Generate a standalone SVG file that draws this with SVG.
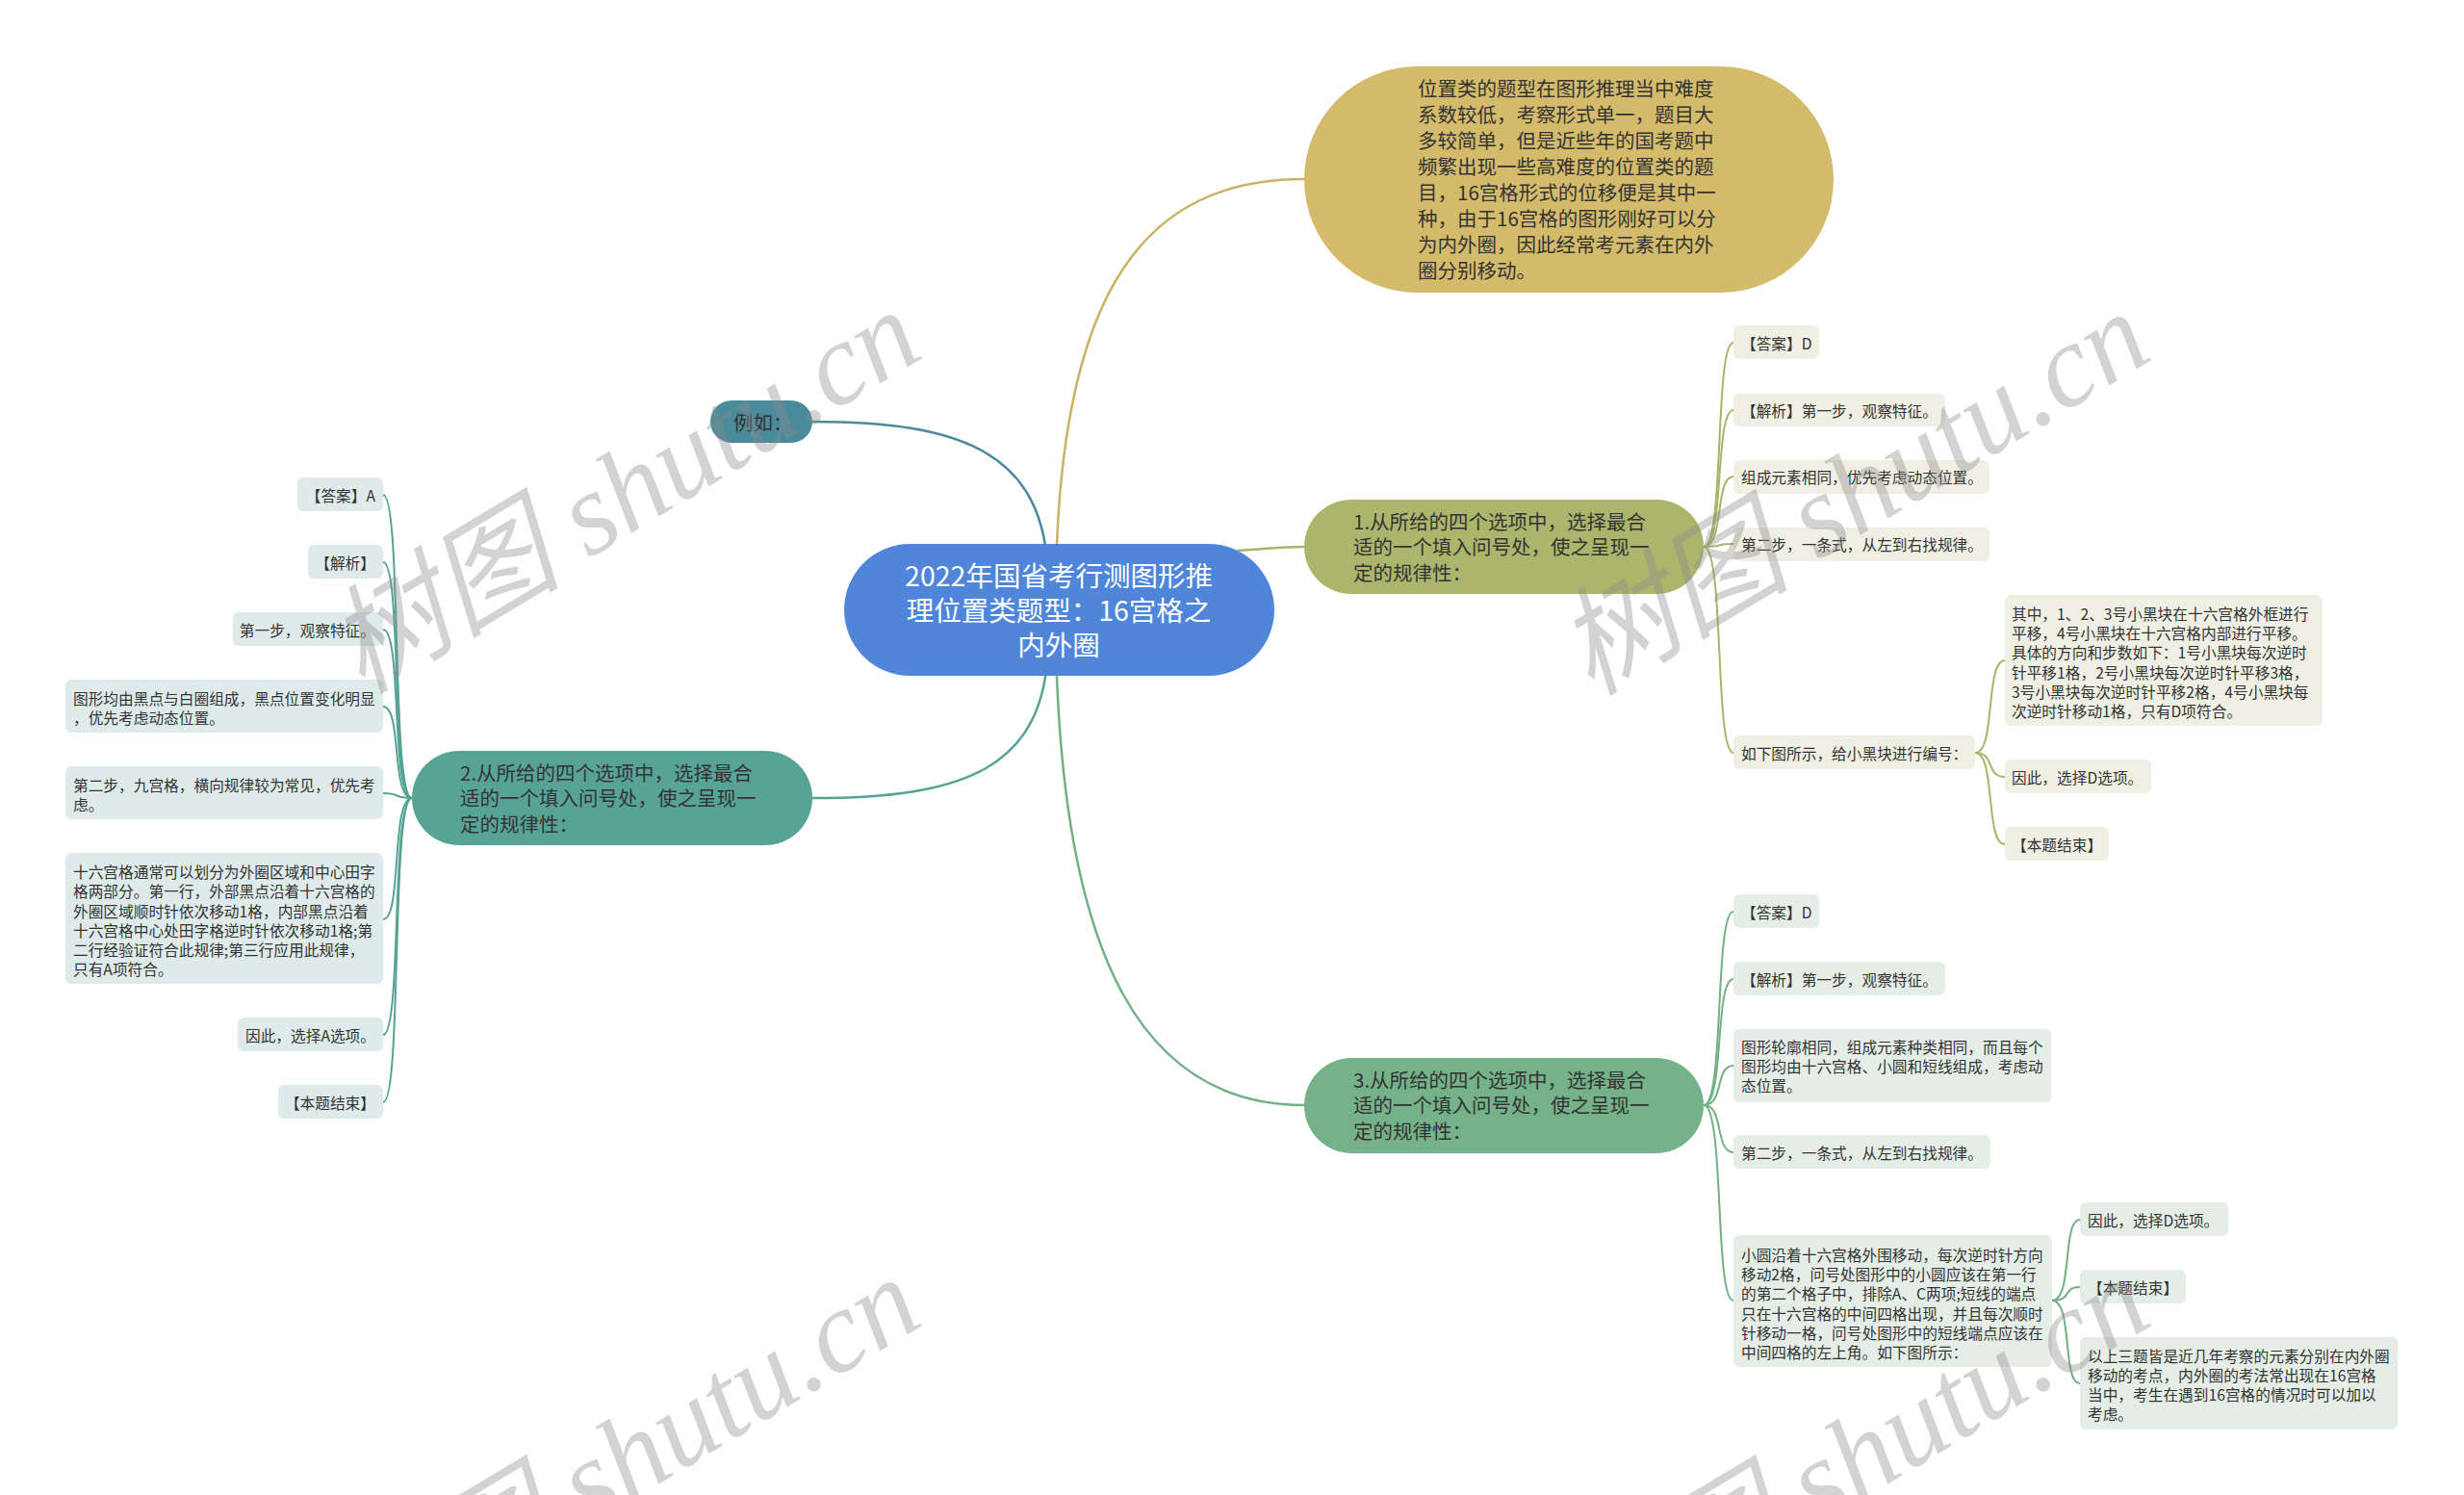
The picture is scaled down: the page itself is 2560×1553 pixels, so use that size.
<svg xmlns="http://www.w3.org/2000/svg" width="2560" height="1553" viewBox="0 0 2560 1553">
<style>
text { font-family: "Noto Sans CJK SC", "Liberation Sans", sans-serif; dominant-baseline: central; }
.t-root { font-size: 28.5px; fill: #ffffff; text-anchor: middle; }
.t-main { font-size: 20.5px; fill: #333333; }
.t-leaf { font-size: 15.7px; fill: #333333; }
.t-end { text-anchor: end; }
.leaf-g1 { fill: #efefe3; }
.leaf-g2 { fill: #deebea; }
.leaf-g3 { fill: #e4eee7; }
.c { fill: none; stroke-linecap: round; }
.c-gold { stroke: #c9b263; stroke-width: 2.5; }
.c-blue { stroke: #4a8b9b; stroke-width: 2.5; }
.c-olive { stroke: #a9b46a; stroke-width: 2.5; }
.c-teal { stroke: #56a396; stroke-width: 2.5; }
.c-green { stroke: #72b086; stroke-width: 2.5; }
.thin { stroke-width: 2; }
.wm { font-family: "Liberation Serif", "Noto Sans CJK SC", serif; font-size: 122px; font-style: italic; fill: #8c8c8c; fill-opacity: 0.38; text-anchor: middle; }
</style>
<rect x="0" y="0" width="2560" height="1553" fill="#ffffff"/>

<g id="connectors">
  <path class="c c-gold" d="M1097,600 C1102,300 1190,186 1355,186"/>
  <path class="c c-blue" d="M1089,600 C1086,470 1000,438 844,438"/>
  <path class="c c-olive" d="M1286,572 C1320,570 1330,568 1355,568"/>
  <path class="c c-teal" d="M1089,670 C1086,800 1000,829 844,829"/>
  <path class="c c-green" d="M1097,670 C1104,1000 1190,1148 1355,1148"/>

  <g class="c c-olive thin">
    <path d="M1770,568 C1792,568 1781,356 1801,356"/>
    <path d="M1770,568 C1792,568 1781,426 1801,426"/>
    <path d="M1770,568 C1792,568 1781,495 1801,495"/>
    <path d="M1770,568 C1792,568 1781,565 1801,565"/>
    <path d="M1770,568 C1792,568 1781,782 1801,782"/>
    <path d="M2052,782 C2074,782 2062,686 2083,686"/>
    <path d="M2052,782 C2074,782 2062,807 2083,807"/>
    <path d="M2052,782 C2074,782 2062,877 2083,877"/>
  </g>
  <g class="c c-teal thin">
    <path d="M428,829 C406,829 418,514 398,514"/>
    <path d="M428,829 C406,829 418,584 398,584"/>
    <path d="M428,829 C406,829 418,654 398,654"/>
    <path d="M428,829 C406,829 418,734 398,734"/>
    <path d="M428,829 C406,829 418,824 398,824"/>
    <path d="M428,829 C406,829 418,955 398,955"/>
    <path d="M428,829 C406,829 418,1075 398,1075"/>
    <path d="M428,829 C406,829 418,1145 398,1145"/>
  </g>
  <g class="c c-green thin">
    <path d="M1770,1148 C1792,1148 1781,947 1801,947"/>
    <path d="M1770,1148 C1792,1148 1781,1017 1801,1017"/>
    <path d="M1770,1148 C1792,1148 1781,1107 1801,1107"/>
    <path d="M1770,1148 C1792,1148 1781,1197 1801,1197"/>
    <path d="M1770,1148 C1792,1148 1781,1351 1801,1351"/>
    <path d="M2132,1351 C2154,1351 2142,1267 2161,1267"/>
    <path d="M2132,1351 C2154,1351 2142,1337 2161,1337"/>
    <path d="M2132,1351 C2154,1351 2142,1437 2161,1437"/>
  </g>
</g>

<g id="root">
  <rect x="877" y="565" width="447" height="137" rx="68.5" fill="#4f86da"/>
  <text class="t-root" x="1100" y="596">2022年国省考行测图形推</text>
  <text class="t-root" x="1100" y="632">理位置类题型：16宫格之</text>
  <text class="t-root" x="1100" y="668">内外圈</text>
</g>

<g id="intro">
  <rect x="1355" y="69" width="550" height="235" rx="117.5" fill="#d4bb6b"/>
  <text class="t-main" x="1473" y="91">位置类的题型在图形推理当中难度</text>
  <text class="t-main" x="1473" y="118">系数较低，考察形式单一，题目大</text>
  <text class="t-main" x="1473" y="145">多较简单，但是近些年的国考题中</text>
  <text class="t-main" x="1473" y="172">频繁出现一些高难度的位置类的题</text>
  <text class="t-main" x="1473" y="199">目，16宫格形式的位移便是其中一</text>
  <text class="t-main" x="1473" y="226">种，由于16宫格的图形刚好可以分</text>
  <text class="t-main" x="1473" y="253">为内外圈，因此经常考元素在内外</text>
  <text class="t-main" x="1473" y="280">圈分别移动。</text>
</g>

<g id="example">
  <rect x="738" y="416" width="106" height="44" rx="22" fill="#4a8b9b"/>
  <text class="t-main" x="762" y="438">例如：</text>
</g>

<g id="q1">
  <rect x="1355" y="519" width="415" height="98" rx="49" fill="#acb56c"/>
  <text class="t-main" x="1406" y="541">1.从所给的四个选项中，选择最合</text>
  <text class="t-main" x="1406" y="567">适的一个填入问号处，使之呈现一</text>
  <text class="t-main" x="1406" y="594">定的规律性：</text>
</g>

<g id="q2">
  <rect x="428" y="780" width="416" height="98" rx="49" fill="#57a497"/>
  <text class="t-main" x="478" y="802">2.从所给的四个选项中，选择最合</text>
  <text class="t-main" x="478" y="828">适的一个填入问号处，使之呈现一</text>
  <text class="t-main" x="478" y="855">定的规律性：</text>
</g>

<g id="q3">
  <rect x="1355" y="1099" width="415" height="99" rx="49.5" fill="#75b289"/>
  <text class="t-main" x="1406" y="1121">3.从所给的四个选项中，选择最合</text>
  <text class="t-main" x="1406" y="1147">适的一个填入问号处，使之呈现一</text>
  <text class="t-main" x="1406" y="1174">定的规律性：</text>
</g>

<g id="q1-answer"><rect class="leaf-g1" x="1801" y="338" width="89" height="35" rx="6"/><text class="t-leaf" x="1809" y="356">【答案】D</text></g>
<g id="q1-analysis"><rect class="leaf-g1" x="1801" y="409" width="220" height="34" rx="6"/><text class="t-leaf" x="1809" y="426">【解析】第一步，观察特征。</text></g>
<g id="q1-elements"><rect class="leaf-g1" x="1801" y="478" width="266" height="35" rx="6"/><text class="t-leaf" x="1809" y="495">组成元素相同，优先考虑动态位置。</text></g>
<g id="q1-step2"><rect class="leaf-g1" x="1801" y="548" width="266" height="35" rx="6"/><text class="t-leaf" x="1809" y="565">第二步，一条式，从左到右找规律。</text></g>
<g id="q1-number"><rect class="leaf-g1" x="1801" y="764" width="251" height="35" rx="6"/><text class="t-leaf" x="1809" y="782">如下图所示，给小黑块进行编号：</text></g>
<g id="q1-detail"><rect class="leaf-g1" x="2083" y="618" width="330" height="136" rx="6"/>
  <text class="t-leaf" x="2090" y="637">其中，1、2、3号小黑块在十六宫格外框进行</text>
  <text class="t-leaf" x="2090" y="657">平移，4号小黑块在十六宫格内部进行平移。</text>
  <text class="t-leaf" x="2090" y="677">具体的方向和步数如下：1号小黑块每次逆时</text>
  <text class="t-leaf" x="2090" y="698">针平移1格，2号小黑块每次逆时针平移3格，</text>
  <text class="t-leaf" x="2090" y="718">3号小黑块每次逆时针平移2格，4号小黑块每</text>
  <text class="t-leaf" x="2090" y="738">次逆时针移动1格，只有D项符合。</text>
</g>
<g id="q1-choose"><rect class="leaf-g1" x="2083" y="789" width="152" height="35" rx="6"/><text class="t-leaf" x="2090" y="807">因此，选择D选项。</text></g>
<g id="q1-end"><rect class="leaf-g1" x="2083" y="859" width="108" height="35" rx="6"/><text class="t-leaf" x="2090" y="877">【本题结束】</text></g>

<g id="q2-answer"><rect class="leaf-g2" x="309" y="496" width="89" height="35" rx="6"/><text class="t-leaf t-end" x="390" y="514">【答案】A</text></g>
<g id="q2-analysis"><rect class="leaf-g2" x="320" y="566" width="78" height="35" rx="6"/><text class="t-leaf t-end" x="390" y="584">【解析】</text></g>
<g id="q2-step1"><rect class="leaf-g2" x="242" y="636" width="156" height="35" rx="6"/><text class="t-leaf t-end" x="390" y="654">第一步，观察特征。</text></g>
<g id="q2-elements"><rect class="leaf-g2" x="68" y="706" width="330" height="55" rx="6"/>
  <text class="t-leaf" x="76" y="725">图形均由黑点与白圈组成，黑点位置变化明显</text>
  <text class="t-leaf" x="76" y="745">，优先考虑动态位置。</text>
</g>
<g id="q2-step2"><rect class="leaf-g2" x="68" y="796" width="330" height="55" rx="6"/>
  <text class="t-leaf" x="76" y="815">第二步，九宫格，横向规律较为常见，优先考</text>
  <text class="t-leaf" x="76" y="835">虑。</text>
</g>
<g id="q2-detail"><rect class="leaf-g2" x="68" y="886" width="330" height="136" rx="6"/>
  <text class="t-leaf" x="76" y="905">十六宫格通常可以划分为外圈区域和中心田字</text>
  <text class="t-leaf" x="76" y="925">格两部分。第一行，外部黑点沿着十六宫格的</text>
  <text class="t-leaf" x="76" y="946">外圈区域顺时针依次移动1格，内部黑点沿着</text>
  <text class="t-leaf" x="76" y="966">十六宫格中心处田字格逆时针依次移动1格;第</text>
  <text class="t-leaf" x="76" y="986">二行经验证符合此规律;第三行应用此规律，</text>
  <text class="t-leaf" x="76" y="1006">只有A项符合。</text>
</g>
<g id="q2-choose"><rect class="leaf-g2" x="247" y="1057" width="151" height="35" rx="6"/><text class="t-leaf t-end" x="390" y="1075">因此，选择A选项。</text></g>
<g id="q2-end"><rect class="leaf-g2" x="289" y="1127" width="109" height="35" rx="6"/><text class="t-leaf t-end" x="390" y="1145">【本题结束】</text></g>

<g id="q3-answer"><rect class="leaf-g3" x="1801" y="929" width="89" height="35" rx="6"/><text class="t-leaf" x="1809" y="947">【答案】D</text></g>
<g id="q3-analysis"><rect class="leaf-g3" x="1801" y="999" width="220" height="35" rx="6"/><text class="t-leaf" x="1809" y="1017">【解析】第一步，观察特征。</text></g>
<g id="q3-elements"><rect class="leaf-g3" x="1801" y="1069" width="330" height="76" rx="6"/>
  <text class="t-leaf" x="1809" y="1087">图形轮廓相同，组成元素种类相同，而且每个</text>
  <text class="t-leaf" x="1809" y="1107">图形均由十六宫格、小圆和短线组成，考虑动</text>
  <text class="t-leaf" x="1809" y="1127">态位置。</text>
</g>
<g id="q3-step2"><rect class="leaf-g3" x="1801" y="1179" width="267" height="35" rx="6"/><text class="t-leaf" x="1809" y="1197">第二步，一条式，从左到右找规律。</text></g>
<g id="q3-detail"><rect class="leaf-g3" x="1801" y="1283" width="331" height="137" rx="6"/>
  <text class="t-leaf" x="1809" y="1303">小圆沿着十六宫格外围移动，每次逆时针方向</text>
  <text class="t-leaf" x="1809" y="1323">移动2格，问号处图形中的小圆应该在第一行</text>
  <text class="t-leaf" x="1809" y="1343">的第二个格子中，排除A、C两项;短线的端点</text>
  <text class="t-leaf" x="1809" y="1364">只在十六宫格的中间四格出现，并且每次顺时</text>
  <text class="t-leaf" x="1809" y="1384">针移动一格，问号处图形中的短线端点应该在</text>
  <text class="t-leaf" x="1809" y="1404">中间四格的左上角。如下图所示：</text>
</g>
<g id="q3-choose"><rect class="leaf-g3" x="2161" y="1249" width="154" height="35" rx="6"/><text class="t-leaf" x="2169" y="1267">因此，选择D选项。</text></g>
<g id="q3-end"><rect class="leaf-g3" x="2161" y="1319" width="110" height="35" rx="6"/><text class="t-leaf" x="2169" y="1337">【本题结束】</text></g>
<g id="q3-summary"><rect class="leaf-g3" x="2161" y="1389" width="330" height="96" rx="6"/>
  <text class="t-leaf" x="2169" y="1408">以上三题皆是近几年考察的元素分别在内外圈</text>
  <text class="t-leaf" x="2169" y="1428">移动的考点，内外圈的考法常出现在16宫格</text>
  <text class="t-leaf" x="2169" y="1448">当中，考生在遇到16宫格的情况时可以加以</text>
  <text class="t-leaf" x="2169" y="1468">考虑。</text>
</g>

<g id="watermarks">
  <text class="wm" transform="translate(648,510) rotate(-31)">树图 shutu.cn</text>
  <text class="wm" transform="translate(1925,512) rotate(-31)">树图 shutu.cn</text>
  <text class="wm" transform="translate(648,1515) rotate(-31)">树图 shutu.cn</text>
  <text class="wm" transform="translate(1925,1515) rotate(-31)">树图 shutu.cn</text>
</g>
</svg>
